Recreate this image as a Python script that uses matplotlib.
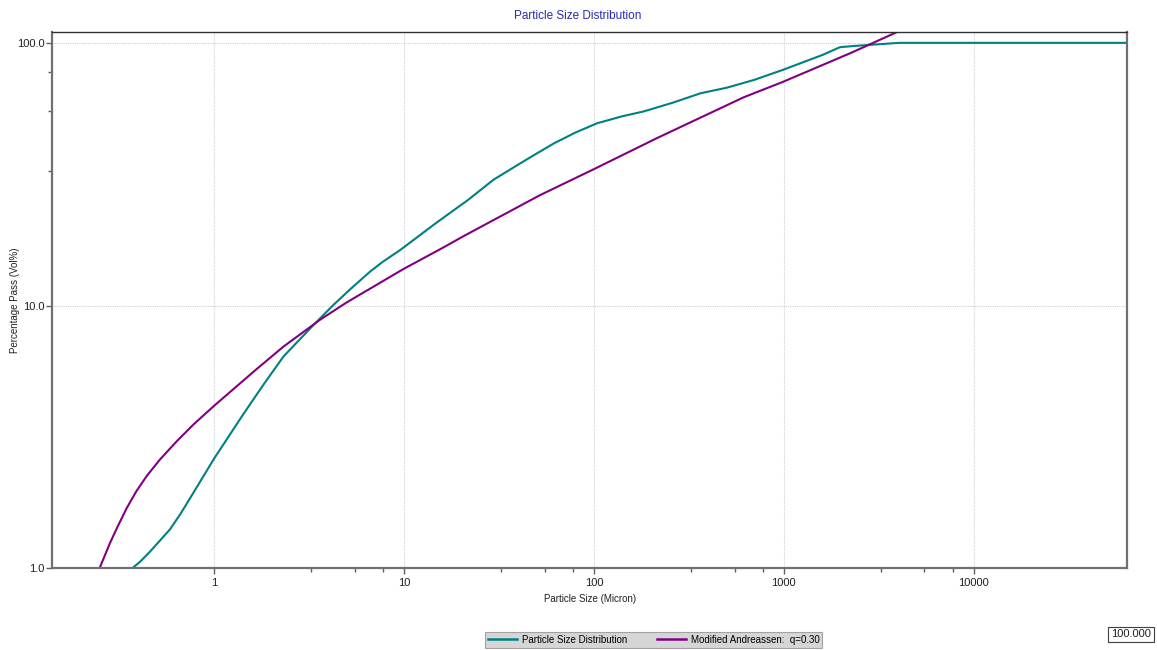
import matplotlib.pyplot as plt
from matplotlib.ticker import FixedLocator, NullFormatter

plt.rcParams['font.family'] = ['Liberation Sans Narrow', 'Liberation Sans', 'DejaVu Sans']

# Particle Size Distribution (teal)
psd_size = [0.369, 0.407, 0.46, 0.52, 0.586, 0.66, 0.747, 1.0, 1.43, 1.82, 2.32, 3.34,
            4.25, 5.21, 6.64, 7.69, 9.56, 14.7, 21.8, 29.5, 38.3, 48, 61.7, 80, 103.6,
            140, 182, 260, 364, 500, 698, 986, 1225, 1600, 1974, 2390, 3365, 4036, 64000]
psd_pass = [1.0, 1.06, 1.16, 1.28, 1.41, 1.6, 1.85, 2.62, 3.88, 5.01, 6.41, 8.45,
            10.07, 11.55, 13.5, 14.65, 16.3, 20.6, 25.3, 30.1, 33.8, 37.3, 41.5, 45.6, 49.4,
            52.5, 54.8, 59.2, 64.3, 67.5, 72.3, 78.9, 83.7, 90.0, 96.3, 97.4, 99.1, 100.0, 100.0]

# Modified Andreassen q=0.30 (purple)
ma_size = [0.249, 0.283, 0.307, 0.347, 0.39, 0.442, 0.519, 0.636, 0.778, 1.0, 1.3, 1.68,
           2.32, 3.62, 5.0, 9.95, 15.5, 20.9, 51.8, 99.3, 216, 612, 986, 2249, 2915,
           3947, 4100]
ma_pass = [1.0, 1.25, 1.42, 1.70, 1.97, 2.25, 2.6, 3.05, 3.53, 4.16, 4.9, 5.75,
           6.99, 8.85, 10.3, 13.8, 16.4, 18.5, 26.3, 33.0, 43.5, 62.0, 71.0, 91.5, 99.6,
           110.0, 112.0]

x_ticks = [1, 10, 100, 1000, 10000]
x_minor = [3.25, 5.5, 7.75, 32.5, 55, 77.5, 325, 550, 775, 3250, 5500, 7750]
y_ticks = [1, 10, 100]
y_minor = [32.5, 55, 77.5]

fig = plt.figure(figsize=(11.57, 6.5), dpi=100)
ax = fig.add_axes([0.0449, 0.1254, 0.9291, 0.8254])

ax.plot(psd_size, psd_pass, color='#008080', lw=1.5, label='Particle Size Distribution')
ax.plot(ma_size, ma_pass, color='#800080', lw=1.5, label='Modified Andreassen:  q=0.30')

ax.set_xscale('log')
ax.set_yscale('log')
ax.set_xlim(0.14, 64000)
ax.set_ylim(1, 110)

ax.xaxis.set_major_locator(FixedLocator(x_ticks))
ax.set_xticklabels([str(v) for v in x_ticks])
ax.xaxis.set_minor_locator(FixedLocator(x_minor))
ax.xaxis.set_minor_formatter(NullFormatter())
ax.yaxis.set_major_locator(FixedLocator(y_ticks))
ax.set_yticklabels(['%.1f' % v for v in y_ticks])
ax.yaxis.set_minor_locator(FixedLocator(y_minor))
ax.yaxis.set_minor_formatter(NullFormatter())

ax.tick_params(which='major', length=4, width=1, color='#606060', labelsize=8, labelcolor='#202020', pad=1.5)
ax.tick_params(which='minor', length=3, width=1, color='#606060')
ax.tick_params(axis='x', pad=3)

ax.grid(True, which='major', color='#d0d0d0', linestyle=(0, (1, 1)), lw=0.8)

for side in ('left', 'bottom', 'right'):
    ax.spines[side].set_color('#707070')
    ax.spines[side].set_linewidth(1.6)
ax.spines['top'].set_color('#303030')
ax.spines['top'].set_linewidth(1.0)

fig.text(0.4996, 0.975, 'Particle Size Distribution', ha='center', va='center',
         fontsize=8.5, color='#2a2ab0')
fig.text(0.51, 0.079, 'Particle Size (Micron)', ha='center', va='center', fontsize=7, color='#202020')
fig.text(0.013, 0.538, 'Percentage Pass (Vol%)', ha='center', va='center', rotation=90,
         fontsize=7, color='#202020')

leg = fig.legend(loc='center', bbox_to_anchor=(0.565, 0.016), ncol=2, fontsize=7,
                 frameon=True, fancybox=False, facecolor='#cccccc', edgecolor='#909090',
                 handlelength=3.0, columnspacing=3, borderpad=0.3, handletextpad=0.5)
leg.get_frame().set_linewidth(0.8)
for line in leg.get_lines():
    line.set_linewidth(1.8)

fig.text(0.9775, 0.024, '100.000', ha='center', va='center', fontsize=8, color='#202020',
         bbox=dict(boxstyle='square,pad=0.25', facecolor='white', edgecolor='#404040', lw=0.8))

fig.savefig('out.png', dpi=100)
